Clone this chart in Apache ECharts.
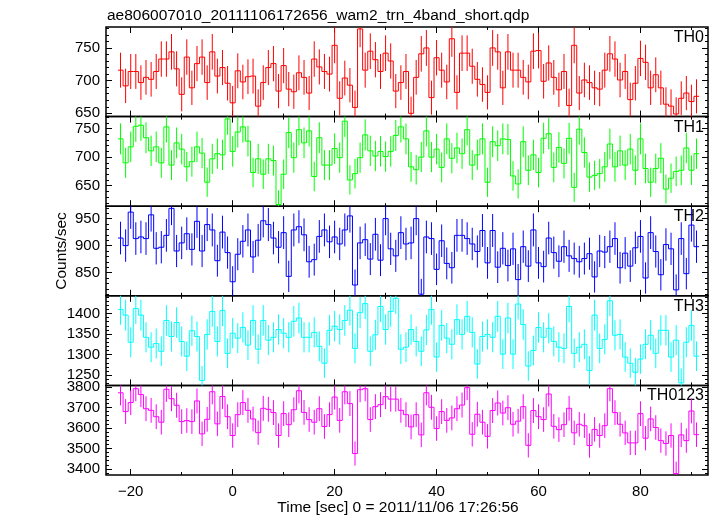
<!DOCTYPE html>
<html>
<head>
<meta charset="utf-8">
<script src="https://cdn.jsdelivr.net/npm/echarts@6/dist/echarts.min.js"></script>
<style>
html,body{margin:0;padding:0;background:#fff;}
#chart{width:717px;height:516px;}
</style>
</head>
<body>
<div id="chart"></div>
<script>
// ---- data (1-s bins, centres from -22 s to 91 s) ----
const binFirstCentre = -22;
const binWidth = 1;

const th0 = [716,692,714,714,697,705,702,714,733,733,
744,718,679,736,689,726,736,697,744,707,
720,696,666,715,698,706,707,661,697,720,
726,684,723,687,683,712,705,681,733,721,
714,710,754,673,704,693,659,779,716,745,
732,714,742,730,684,697,714,650,705,741,
750,674,735,716,698,764,682,742,742,722,
702,694,682,750,744,689,744,716,716,705,
698,745,746,699,727,705,686,714,662,754,
681,701,697,689,687,716,741,733,701,714,
671,696,734,728,689,709,689,664,661,649,
673,681,668,676];

const th1 = [732,690,718,754,756,734,711,718,690,753,
686,725,714,683,692,718,707,656,697,706,
704,767,710,744,753,728,673,697,670,697,
694,617,670,743,699,748,725,746,666,734,
686,686,715,699,763,660,671,699,739,711,
702,710,701,710,738,753,732,683,678,700,
746,700,714,682,732,698,716,706,748,686,
704,732,656,727,720,732,731,667,653,727,
677,704,673,733,741,682,717,689,733,647,
749,708,665,668,671,683,723,683,711,686,
714,677,732,680,656,680,698,644,663,675,
677,716,677,706];

const th2 = [914,900,962,913,916,913,957,895,897,919,
969,890,905,922,893,945,890,939,929,872,
925,887,833,884,908,929,879,910,946,939,
914,897,924,843,929,935,920,870,874,917,
929,907,916,903,929,955,827,905,911,875,
921,873,950,894,881,924,903,905,950,810,
916,913,856,909,867,859,919,919,913,903,
889,928,868,928,860,895,863,894,837,898,
862,929,868,861,914,887,871,898,881,876,
870,876,885,842,890,888,898,913,859,886,
862,896,917,840,924,889,846,902,894,818,
913,848,938,898];

const th3 = [1410,1396,1330,1412,1396,1342,1318,1327,1308,1383,
1344,1378,1332,1296,1358,1344,1237,1349,1405,1332,
1407,1303,1352,1340,1366,1323,1383,1313,1383,1335,
1342,1361,1352,1342,1381,1389,1342,1342,1354,1320,
1279,1359,1369,1361,1383,1408,1315,1402,1424,1308,
1348,1417,1361,1405,1437,1313,1318,1361,1332,1308,
1360,1410,1294,1371,1340,1325,1385,1349,1393,1354,
1277,1344,1349,1342,1393,1301,1389,1301,1423,1373,
1272,1310,1366,1342,1364,1332,1318,1315,1417,1303,
1318,1325,1261,1396,1315,1337,1431,1347,1349,1294,
1279,1257,1289,1325,1347,1303,1359,1359,1294,1335,
1231,1330,1371,1296];

const th0123 = [3772,3680,3724,3792,3763,3694,3686,3655,3628,3789,
3743,3711,3631,3636,3631,3732,3571,3642,3777,3620,
3754,3655,3563,3665,3724,3686,3644,3577,3696,3691,
3675,3563,3670,3616,3689,3782,3676,3641,3628,3694,
3607,3665,3751,3637,3777,3719,3475,3787,3792,3641,
3704,3714,3753,3741,3741,3686,3665,3605,3665,3566,
3772,3701,3597,3680,3637,3649,3694,3712,3797,3569,
3667,3628,3559,3685,3722,3673,3699,3618,3633,3704,
3515,3685,3655,3641,3766,3608,3592,3616,3696,3576,
3618,3611,3514,3593,3563,3611,3792,3675,3618,3576,
3527,3527,3670,3550,3644,3602,3538,3524,3563,3377,
3566,3538,3683,3567];

const panelNames = ['TH0','TH1','TH2','TH3','TH0123'];
const xMajorTicks = [-20,0,20,40,60,80];
const xMinorTicks = [-10,10,30,50,70,90];
const yMajorTicks = [[650,700,750],[650,700,750],[850,900,950],[1250,1300,1350,1400],[3400,3500,3600,3700,3800]];
const yMinorStep = [10,10,10,10,20];

const titleText = 'ae806007010_20111106172656_wam2_trn_4band_short.qdp';
const xTitle = 'Time [sec] 0 = 2011/11/06 17:26:56';
const yTitle = 'Counts/sec';

// ---- presentation ----
const seriesValues = [th0, th1, th2, th3, th0123];
const colors = ['#ff0000','#00ff00','#0000ff','#00ffff','#ff00ff'];
const yRanges = [[645,782],[614,771],[807,973],[1225,1443],[3370,3808]];
const XMIN = -24.85, XMAX = 93.25;
const GRID_LEFT = 106, GRID_W = 602, GRID_TOP = 27, PANEL_H = 89.6;
const FONT = '"Liberation Sans", Arial, Helvetica, sans-serif';

function minorList(range, step, majors){
  const out = [];
  for (let v = Math.ceil(range[0]/step)*step; v <= range[1]; v += step){
    if (majors.indexOf(v) < 0) out.push(v);
  }
  return out;
}
function fmtX(v){ return v < 0 ? '\u2212' + Math.abs(v) : String(v); }
function fmtY(v){ return String(v); }

const grids = [], xAxes = [], yAxes = [], series = [], graphics = [];

seriesValues.forEach((vals, i) => {
  const top = GRID_TOP + i*PANEL_H;
  grids.push({left: GRID_LEFT, width: GRID_W, top: top, height: PANEL_H,
    show: true, borderColor: '#000', borderWidth: 1.5, backgroundColor: 'transparent'});
  const tickStyle = {color: '#000', width: 1};
  const baseX = {type: 'value', gridIndex: i, min: XMIN, max: XMAX,
    axisLine: {show: false, onZero: false}, splitLine: {show: false}};
  [['bottom', xMajorTicks, 6], ['bottom', xMinorTicks, 3], ['top', xMajorTicks, 6], ['top', xMinorTicks, 3]]
    .forEach(([pos, ticks, len], k) => {
      const showLab = (i === 4 && pos === 'bottom' && k === 0);
      xAxes.push(Object.assign({}, baseX, {
        position: pos,
        axisTick: {show: true, inside: true, length: len, customValues: ticks, lineStyle: tickStyle},
        axisLabel: {show: showLab, customValues: ticks, formatter: fmtX, margin: 9,
          fontSize: 15, color: '#000', fontFamily: FONT}
      }));
    });
  const majors = yMajorTicks[i];
  const minors = minorList(yRanges[i], yMinorStep[i], majors);
  const baseY = {type: 'value', gridIndex: i, min: yRanges[i][0], max: yRanges[i][1],
    axisLine: {show: false, onZero: false}, splitLine: {show: false}};
  [['left', majors, 6], ['left', minors, 3], ['right', majors, 6], ['right', minors, 3]]
    .forEach(([pos, ticks, len], k) => {
      yAxes.push(Object.assign({}, baseY, {
        position: pos,
        axisTick: {show: true, inside: true, length: len, customValues: ticks, lineStyle: tickStyle},
        axisLabel: {show: k === 0, customValues: ticks, formatter: fmtY, margin: 6,
          fontSize: 15, color: '#000', fontFamily: FONT}
      }));
    });

  const data = vals.map((v, j) => [binFirstCentre + j*binWidth, v, Math.sqrt(v*binWidth)/binWidth]);
  const col = colors[i];
  series.push({
    type: 'custom', xAxisIndex: 4*i, yAxisIndex: 4*i, clip: true, silent: true,
    data: data,
    renderItem: function(params, api){
      const j = params.dataIndex;
      const t = api.value(0), v = api.value(1), e = api.value(2);
      const pL = api.coord([t - binWidth/2, v]);
      const pR = api.coord([t + binWidth/2, v]);
      const eT = api.coord([t, v + e]);
      const eB = api.coord([t, v - e]);
      const st = {stroke: col, lineWidth: 1, fill: null};
      const children = [
        {type: 'line', shape: {x1: pL[0], y1: pL[1], x2: pR[0], y2: pR[1]}, style: st},
        {type: 'line', shape: {x1: eT[0], y1: eT[1], x2: eB[0], y2: eB[1]}, style: st}
      ];
      if (j > 0) {
        const pP = api.coord([t - binWidth/2, vals[j-1]]);
        children.push({type: 'line', shape: {x1: pP[0], y1: pP[1], x2: pL[0], y2: pL[1]}, style: st});
      }
      return {type: 'group', children: children};
    }
  });

  graphics.push({type: 'text', x: 704, y: top + 10.5,
    style: {text: panelNames[i], textAlign: 'right', textVerticalAlign: 'middle',
      font: '16px ' + FONT, fill: '#000'}});
});

graphics.push({type: 'text', x: 107, y: 16,
  style: {text: titleText, textAlign: 'left', textVerticalAlign: 'middle', font: '15.5px ' + FONT, fill: '#000'}});
graphics.push({type: 'text', x: 398, y: 508,
  style: {text: xTitle, textAlign: 'center', textVerticalAlign: 'middle', font: '15.5px ' + FONT, fill: '#000'}});
graphics.push({type: 'text', x: 62, y: 251, rotation: Math.PI/2,
  style: {text: yTitle, textAlign: 'center', textVerticalAlign: 'middle', font: '15.5px ' + FONT, fill: '#000'}});

const chart = echarts.init(document.getElementById('chart'), null, {renderer: 'canvas'});
chart.setOption({
  animation: false,
  backgroundColor: '#fff',
  grid: grids,
  xAxis: xAxes,
  yAxis: yAxes,
  series: series,
  graphic: graphics
});
</script>
</body>
</html>
